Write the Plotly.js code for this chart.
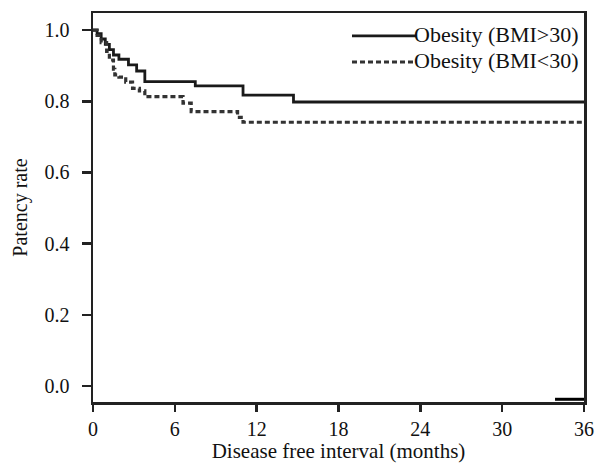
<!DOCTYPE html>
<html>
<head>
<meta charset="utf-8">
<script src="https://cdn.plot.ly/plotly-3.0.1.min.js"></script>
<style>html,body{margin:0;padding:0;background:#fff}#chart{width:598px;height:468px}</style>
</head>
<body>
<div id="chart"></div>
<script>
// Kaplan–Meier step data (time in months, patency rate)
const seriesNames = ["Obesity (BMI>30)", "Obesity (BMI<30)"];
const highBmiTime = [0, 0.3, 0.6, 0.9, 1.2, 1.5, 1.9, 2.6, 3.2, 3.8, 7.5, 11.0, 14.7, 36];
const highBmiRate = [1.0, 0.99, 0.975, 0.96, 0.945, 0.93, 0.918, 0.902, 0.885, 0.855, 0.843, 0.817, 0.798, 0.798];
const lowBmiTime = [0, 0.3, 0.6, 1.0, 1.2, 1.5, 1.6, 1.9, 2.4, 2.9, 3.4, 3.8, 6.6, 7.2, 10.6, 11.0, 36];
const lowBmiRate = [1.0, 0.985, 0.965, 0.94, 0.916, 0.89, 0.874, 0.868, 0.854, 0.836, 0.829, 0.813, 0.795, 0.771, 0.755, 0.741, 0.741];
const xTicks = [0, 6, 12, 18, 24, 30, 36];
const yTicks = [0.0, 0.2, 0.4, 0.6, 0.8, 1.0];
const yTickText = ["0.0", "0.2", "0.4", "0.6", "0.8", "1.0"];

const font = "Liberation Serif, Times New Roman, serif";
const solidStyle = {color: "#1a1a1a", width: 2.8};
const dotStyle = {color: "#333333", width: 3.2, dash: "5px,3px"};
const traces = [
  {x: highBmiTime, y: highBmiRate, name: seriesNames[0], mode: "lines",
   line: Object.assign({shape: "hv"}, solidStyle)},
  {x: lowBmiTime, y: lowBmiRate, name: seriesNames[1], mode: "lines",
   line: Object.assign({shape: "hv"}, dotStyle)}
];
// legend drawn manually so the sample lines match the original length
const legRows = [0.941, 0.874];
const shapes = [
  {type: "line", xref: "paper", yref: "paper", x0: 0.5275, x1: 0.658, y0: legRows[0], y1: legRows[0], line: solidStyle},
  {type: "line", xref: "paper", yref: "paper", x0: 0.5275, x1: 0.652, y0: legRows[1], y1: legRows[1], line: {color: dotStyle.color, width: dotStyle.width, dash: dotStyle.dash}},
  // heavier stroke at the lower right corner of the frame, as in the original
  {type: "line", xref: "paper", yref: "paper", x0: 0.941, x1: 1, y0: 0.007, y1: 0.007, line: {color: "#000", width: 3}}
];
const annotations = seriesNames.map((n, i) => ({
  text: n, xref: "paper", yref: "paper", x: 0.993, y: legRows[i] + 0.004,
  xanchor: "right", yanchor: "middle", showarrow: false,
  font: {family: font, size: 22, color: "#111"}
}));
const layout = {
  width: 598, height: 468,
  margin: {l: 93, r: 14, t: 13, b: 66},
  paper_bgcolor: "#fff", plot_bgcolor: "#fff",
  font: {family: font, size: 20, color: "#111"},
  showlegend: false,
  shapes: shapes, annotations: annotations,
  xaxis: {range: [0, 36], tickvals: xTicks, ticktext: xTicks.map(String),
          showgrid: false, zeroline: false, showline: true, mirror: true,
          linecolor: "#222", linewidth: 2.5, ticks: "outside", ticklen: 7, tickwidth: 2.5,
          tickcolor: "#222", tickfont: {family: font, size: 20}, ticklabelstandoff: 0,
          title: {text: "Disease free interval (months)", font: {family: font, size: 21}, standoff: 2}},
  yaxis: {range: [-0.045, 1.048], tickvals: yTicks, ticktext: yTickText,
          showgrid: false, zeroline: false, showline: true, mirror: true,
          linecolor: "#222", linewidth: 2.5, ticks: "outside", ticklen: 9, tickwidth: 2.5,
          tickcolor: "#222", tickfont: {family: font, size: 20}, ticklabelstandoff: 8,
          title: {text: "Patency rate", font: {family: font, size: 20}, standoff: 12}}
};
Plotly.newPlot("chart", traces, layout, {displayModeBar: false, staticPlot: true});
</script>
</body>
</html>
